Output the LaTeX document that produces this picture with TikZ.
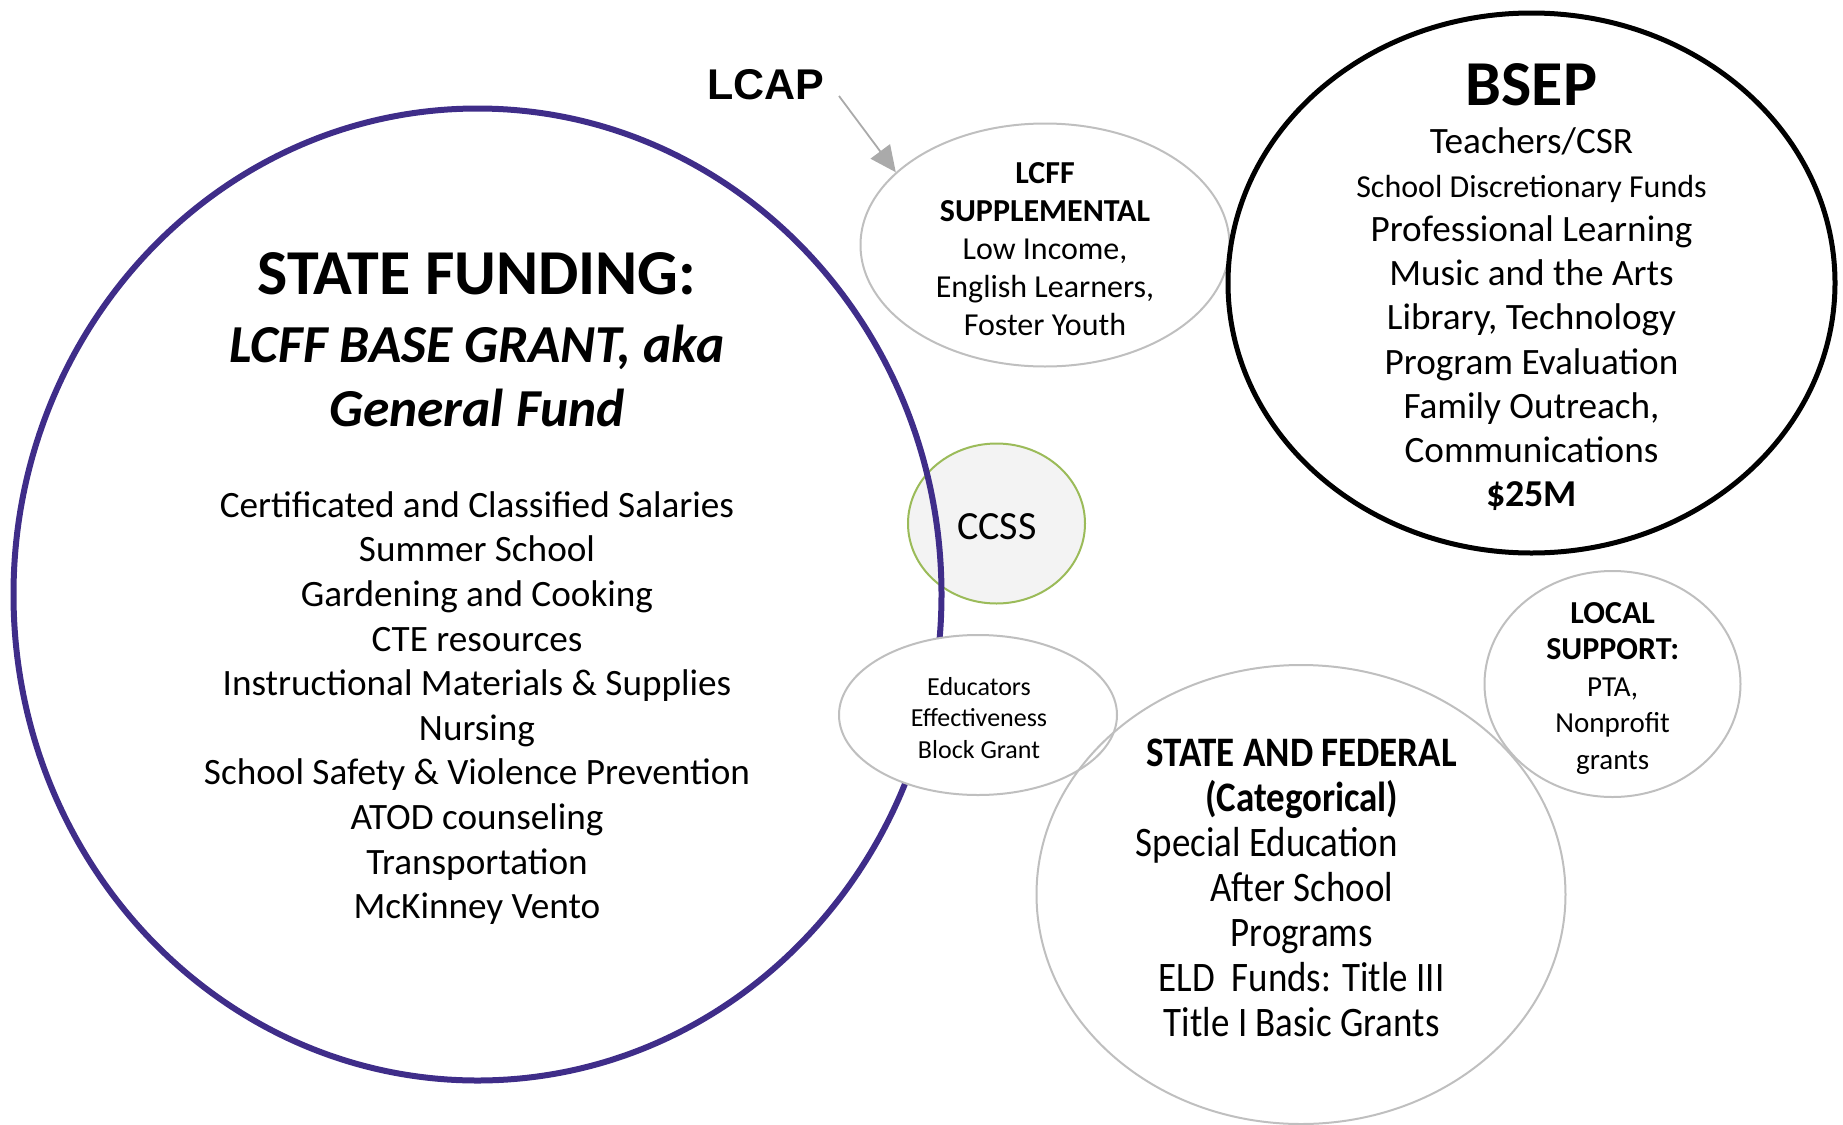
\documentclass[tikz,border=0pt]{standalone}
\usepackage{fontspec}
\setmainfont{Carlito}
\newfontfamily\lcapfont{Liberation Sans}
\newfontfamily\condfont[FakeStretch=0.88]{Carlito}
\usetikzlibrary{shapes.geometric, arrows.meta}

\definecolor{fundpurple}{RGB}{63,45,137}
\definecolor{ccssgreen}{RGB}{155,187,89}
\definecolor{ccssfill}{RGB}{243,243,243}
\definecolor{bubblegray}{RGB}{191,191,191}
\definecolor{arrowgray}{RGB}{170,170,170}

\tikzstyle{bubble}=[ellipse, inner sep=0pt, draw=bubblegray, line width=1pt]
\tikzstyle{txt}=[align=center, inner sep=0pt]
\tikzstyle{pointer}=[draw=arrowgray, line width=0.9pt, -{Triangle[length=13pt, width=12pt]}]

\begin{document}
\begin{tikzpicture}[x=0.5pt, y=-0.5pt]
  \useasboundingbox (0,0) rectangle (1843,1125);

  % bubbles, back to front
  \node[bubble, draw=ccssgreen, fill=ccssfill, minimum width=88.5pt, minimum height=80pt] (ccss) at (996.5,523.5) {};
  \node[ellipse, inner sep=0pt, draw=fundpurple, line width=3pt, minimum width=464pt, minimum height=486pt] (statefund) at (477.5,594.5) {};
  \node[bubble, fill=white, minimum width=139pt, minimum height=80pt] (eebg) at (978,715) {};
  \node[bubble, minimum width=264.5pt, minimum height=229.5pt] (catfund) at (1301,894.5) {};
  \node[bubble, minimum width=128pt, minimum height=113pt] (local) at (1612.5,684) {};
  \node[bubble, minimum width=184.5pt, minimum height=121.5pt] (lcff) at (1045,245) {};
  \node[bubble, draw=black, line width=2.5pt, minimum width=303.5pt, minimum height=270pt] (bsep) at (1531.5,283) {};

  % state funding
  \node[txt, font=\fontsize{32}{38}\selectfont\bfseries] (sftitle) at (477,274) {STATE FUNDING:};
  \node[txt, font=\fontsize{26.7}{32}\selectfont\bfseries\itshape] (sfsub) at (477,376) {LCFF BASE GRANT, aka\\General Fund};
  \node[txt, font=\fontsize{18.6}{22.3}\selectfont] (sfitems) at (477,708) {Certificated and Classified Salaries\\Summer School\\Gardening and Cooking\\CTE resources\\Instructional Materials \& Supplies\\Nursing\\School Safety \& Violence Prevention\\ATOD counseling\\Transportation\\McKinney Vento};

  % small bubbles
  \node[txt, font=\fontsize{20}{24}\selectfont] (ccsstext) at (997,527) {CCSS};
  \node[txt, font=\fontsize{13}{15.7}\selectfont] (eebgtext) at (979,718) {Educators\\Effectiveness\\Block Grant};
  \node[txt, font=\fontsize{16}{19}\selectfont] (lcfftext) at (1045,249) {\textbf{LCFF}\\\textbf{SUPPLEMENTAL}\\Low Income,\\English Learners,\\Foster Youth};

  % bsep
  \node[txt, font=\fontsize{32}{38}\selectfont\bfseries] (bseptitle) at (1531.5,85) {BSEP};
  \node[txt, font=\fontsize{18.6}{22.1}\selectfont] (bsepitems) at (1531.5,319) {Teachers/CSR\\{\fontsize{16}{22.1}\selectfont School Discretionary Funds}\\Professional Learning\\Music and the Arts\\Library, Technology\\Program Evaluation\\Family Outreach,\\Communications\\{\fontsize{19}{22.1}\selectfont\bfseries \$25M}};

  % local and categorical
  \node[txt, font=\fontsize{14.5}{18.25}\selectfont] (localtext) at (1612.7,688) {{\fontsize{16}{18.25}\selectfont\bfseries LOCAL}\\{\fontsize{16}{18.25}\selectfont\bfseries SUPPORT:}\\PTA,\\Nonprofit\\grants};
  \node[txt, font=\condfont\fontsize{21}{22.55}\selectfont] (cattext) at (1301.7,888) {\textbf{STATE AND FEDERAL}\\\textbf{(Categorical)}\\\mbox{Special Education\hspace{35pt}}\\After School\\Programs\\ELD\ \ Funds: Title III\\Title I Basic Grants};

  % lcap pointer
  \node[txt, font=\lcapfont\fontsize{21.5}{26}\selectfont\bfseries] (lcap) at (766,85) {LCAP};
  \coordinate (lcaptail) at (839,96);
  \draw[pointer] (lcaptail) -- (lcff.154);
\end{tikzpicture}
\end{document}
